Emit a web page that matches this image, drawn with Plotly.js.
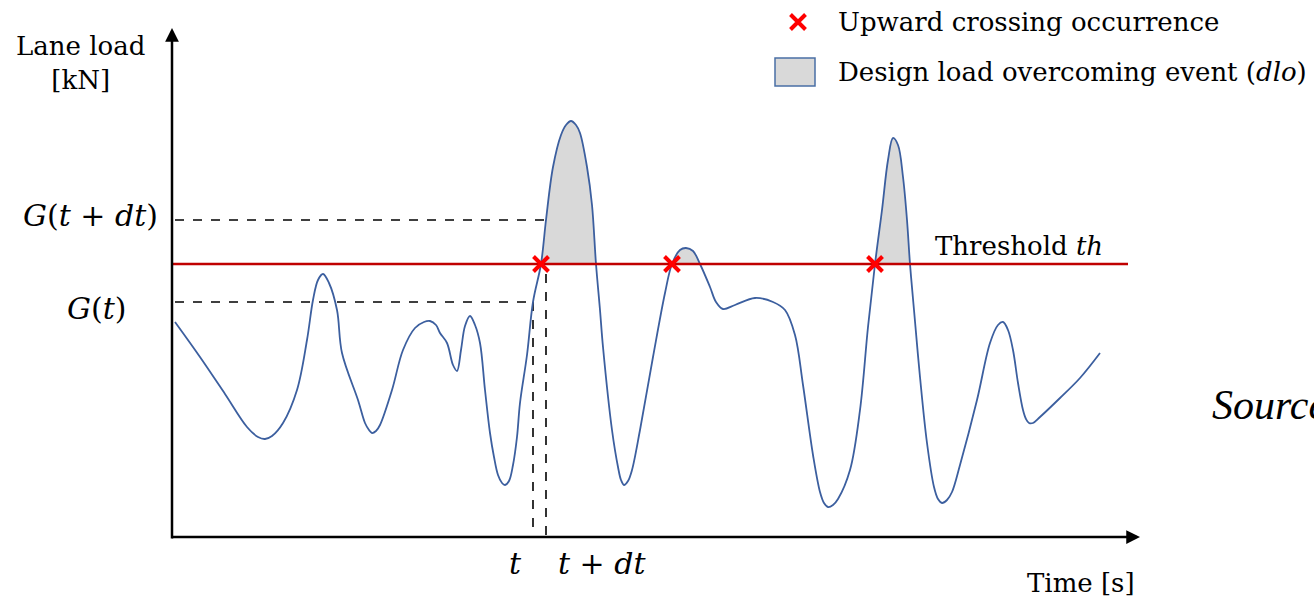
<!DOCTYPE html>
<html>
<head>
<meta charset="utf-8">
<script src="https://cdn.plot.ly/plotly-3.0.1.min.js"></script>
<style>html,body{margin:0;padding:0;background:#fff;}#chart{width:1314px;height:599px;}</style>
</head>
<body>
<div id="chart"></div>
<script>
// ---- data (schematic units: time from origin, load from origin) ----
const time = [3,28,53,75,86,93,100,111,125,135,141,146,151,157,165,170,186,193,197,200,204,208,220,231,243,252,258,264,268,275,281,285,289,293,298,303,308,313,318,322,326,330,333,337,341,345,348,355,361,369,374,381,389,394,399,404,408,415,420,424,428,431,440,446,449,452,456,460,468,481,493,500,508,514,521,528,538,544,551,563,583,601,613,623,631,641,648,652,656,661,666,678,688,696,703,710,716,721,726,731,735,738,742,748,755,762,766,770,775,780,788,805,818,826,831,836,841,846,851,854,857,861,868,888,908,928];
const load = [215,180,143,110,100,98,101,114,147,197,237,257,263,254,227,184,137,114,107,104,106,112,147,187,209,215,216,212,204,194,172,166,187,211,221,212,194,147,104,80,62,54,52,56,72,100,134,182,235,273,317,370,402,412,416,412,404,370,332,273,227,190,107,70,57,52,56,67,107,180,244,273,287,289,286,273,250,235,228,232,239,235,227,202,152,82,45,34,30,32,38,67,127,210,273,327,377,399,392,360,317,273,227,160,94,50,38,34,37,45,72,137,194,212,215,207,187,154,127,118,114,114,120,139,159,184];
const threshold = 273;
const crossingTimes = [369, 500, 703];
const tSample = 361, tdtSample = 374;
const gT = 235, gTdt = 317;
const xMax = 968, yMax = 509;
const legendLabels = ["Upward crossing occurrence", "Design load overcoming event (<i>dlo</i>)"];

// ---- colours / styles ----
const curveColor = '#3c5f9f';
const red = '#ff0000';
const thrColor = '#c00000';
const fillGray = '#d9d9d9';
const serif = 'DejaVu Serif, serif';

const traces = [];
// exceedance fills: contiguous runs of curve points at/above threshold
let run = null;
const runs = [];
for (let i = 0; i < time.length; i++) {
  if (load[i] >= threshold) { if (!run) run = []; run.push(i); }
  else if (run) { runs.push(run); run = null; }
}
if (run) runs.push(run);
runs.forEach(r => {
  traces.push({
    x: r.map(i => time[i]), y: r.map(i => load[i]),
    type: 'scatter', mode: 'lines', fill: 'toself', fillcolor: fillGray,
    line: {width: 0, shape: 'spline', smoothing: 1}, hoverinfo: 'skip', showlegend: false
  });
});
// curve
traces.push({x: time, y: load, type: 'scatter', mode: 'lines',
  line: {color: curveColor, width: 1.8, shape: 'spline', smoothing: 1}, showlegend: false});
// threshold
traces.push({x: [0, 956], y: [threshold, threshold], type: 'scatter', mode: 'lines',
  line: {color: thrColor, width: 2.5}, showlegend: false});
// crossing markers
const xMarker = {symbol: 'x-thin', size: 15, line: {color: red, width: 4}};
traces.push({x: crossingTimes, y: crossingTimes.map(() => threshold), type: 'scatter', mode: 'markers',
  marker: xMarker, showlegend: false});
// legend marker
traces.push({x: [626], y: [515], type: 'scatter', mode: 'markers', marker: xMarker, showlegend: false});

const dash = {color: '#000', width: 1.6, dash: 'dash'};
const shapes = [
  {type: 'line', x0: 3, x1: tdtSample, y0: gTdt, y1: gTdt, line: dash, layer: 'below'},
  {type: 'line', x0: tdtSample, x1: tdtSample, y0: gTdt, y1: 0, line: dash, layer: 'below'},
  {type: 'line', x0: 3, x1: tSample, y0: gT, y1: gT, line: dash, layer: 'below'},
  {type: 'line', x0: tSample, x1: tSample, y0: gT, y1: 0, line: dash, layer: 'below'},
  {type: 'rect', x0: 603, x1: 643, y0: 451, y1: 479, fillcolor: fillGray, line: {color: '#4a6fa5', width: 1.5}}
];

const txt = (x, y, text, opts) => Object.assign({x, y, xref: 'x', yref: 'y', text, showarrow: false,
  font: {family: serif, size: 26, color: '#000'}}, opts || {});
const mathFont = {family: serif, size: 30, color: '#000'};

const annotations = [
  // axis arrows
  {x: 0, y: yMax, ax: 0, ay: -3, xref: 'x', yref: 'y', axref: 'x', ayref: 'y', text: '', showarrow: true,
   arrowhead: 2, arrowsize: 1.1, arrowwidth: 2.5, arrowcolor: '#000', standoff: 0, startstandoff: 0},
  {x: xMax, y: 0, ax: -1.5, ay: 0, xref: 'x', yref: 'y', axref: 'x', ayref: 'y', text: '', showarrow: true,
   arrowhead: 2, arrowsize: 1.1, arrowwidth: 2.5, arrowcolor: '#000', standoff: 0, startstandoff: 0},
  txt(-92, 474, 'Lane load<br>[kN]', {align: 'center'}),
  txt(-12, 322, '<i>G</i>(<i>t</i> + <i>dt</i>)', {xanchor: 'right', font: mathFont}),
  txt(-44, 229, '<i>G</i>(<i>t</i>)', {xanchor: 'right', font: mathFont}),
  txt(343, -26, '<i>t</i>', {font: mathFont}),
  txt(384, -26, '<i>t</i> + <i>dt</i>', {xanchor: 'left', font: mathFont}),
  txt(909, -46, 'Time [s]'),
  txt(761, 291, 'Threshold <i>th</i>', {xanchor: 'left'}),
  txt(664, 515, legendLabels[0], {xanchor: 'left'}),
  txt(664, 465, legendLabels[1], {xanchor: 'left'}),
  txt(1038, 132, '<i>Source</i>', {xanchor: 'left', font: {family: 'Liberation Serif, serif', size: 42, color: '#000'}})
];

const layout = {
  width: 1314, height: 599,
  margin: {l: 0, r: 0, t: 0, b: 0, pad: 0},
  paper_bgcolor: '#fff', plot_bgcolor: '#fff',
  xaxis: {range: [-172, 1142], visible: false, fixedrange: true},
  yaxis: {range: [-62, 537], visible: false, fixedrange: true},
  showlegend: false,
  shapes, annotations
};

Plotly.newPlot('chart', traces, layout, {staticPlot: true});
</script>
</body>
</html>
